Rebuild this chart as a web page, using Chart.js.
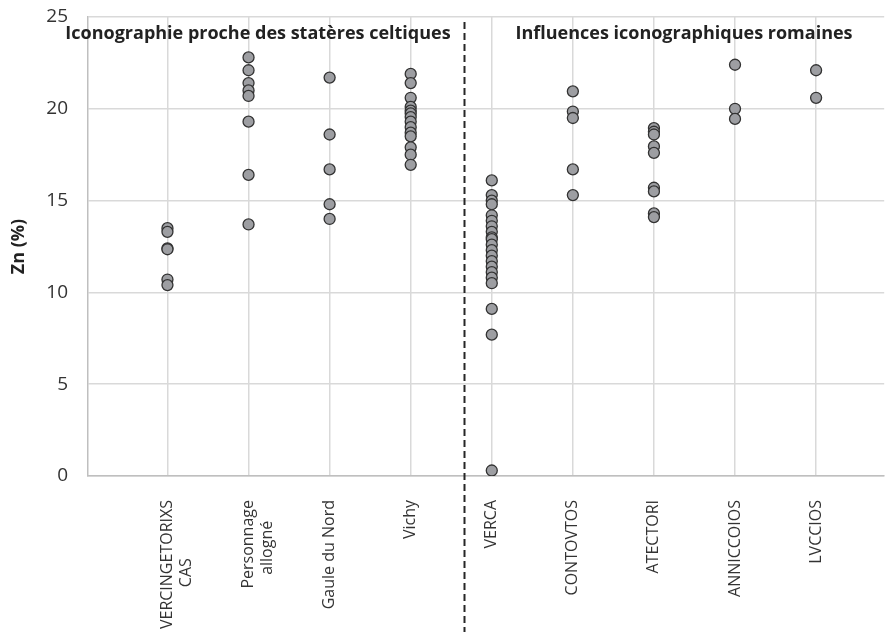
<!DOCTYPE html>
<html>
<head>
<meta charset="utf-8">
<script src="https://cdn.jsdelivr.net/npm/chart.js@4/dist/chart.umd.min.js"></script>
<style>
  html, body { margin: 0; padding: 0; background: #fff; }
  #wrap { width: 891px; height: 641px; }
</style>
</head>
<body>
<div id="wrap"><canvas id="znChart" width="891" height="641"></canvas></div>
<script>
// categories (x = 1..9), nbsp padding centres the short 2nd line under the long one
let categories = [
  ['VERCINGETORIXS', 'CAS' + '\u00a0'.repeat(14)],
  ['Personnage', 'allogné' + '\u00a0'.repeat(5)],
  'Gaule du Nord',
  'Vichy',
  'VERCA',
  'CONTOVTOS',
  'ATECTORI',
  'ANNICCOIOS',
  'LVCCIOS'
];

// Zn (%) per category
let vercingetorixs = [13.5, 13.3, 12.4, 12.35, 10.7, 10.4];
let personnage = [22.8, 22.1, 21.4, 21.0, 20.7, 19.3, 16.4, 13.7];
let gauleNord = [21.7, 18.6, 16.7, 14.8, 14.0];
let vichy = [21.9, 21.4, 20.6, 20.1, 19.9, 19.75, 19.55, 19.3, 19.0, 18.7, 18.5, 17.9, 17.5, 16.95];
let verca = [16.1, 15.3, 15.0, 14.8, 14.2, 13.9, 13.6, 13.3, 13.0, 12.9, 12.6, 12.3, 12.0, 11.7, 11.4, 11.1, 10.8, 10.5, 9.1, 7.7, 0.3];
let contovtos = [20.95, 19.85, 19.5, 16.7, 15.3];
let atectori = [18.95, 18.75, 18.6, 17.95, 17.6, 15.7, 15.5, 14.3, 14.1];
let anniccoios = [22.4, 20.0, 19.45];
let lvccios = [22.1, 20.6];

let yTicks = [0, 5, 10, 15, 20, 25];
let groupTitles = ['Iconographie proche des statères celtiques', 'Influences iconographiques romaines'];

let series = [vercingetorixs, personnage, gauleNord, vichy, verca, contovtos, atectori, anniccoios, lvccios];
let points = [];
series.forEach(function (vals, i) {
  vals.forEach(function (v) { points.push({ x: i + 1, y: v }); });
});

// dashed separator + group headings
let groupPlugin = {
  id: 'groups',
  afterDatasetsDraw: function (chart) {
    let ctx = chart.ctx;
    let xs = chart.scales.x;
    let ys = chart.scales.y;
    let sepX = Math.round(xs.getPixelForValue(4.66)) + 0.5;
    ctx.save();
    ctx.strokeStyle = '#262626';
    ctx.lineWidth = 2;
    ctx.setLineDash([7, 4]);
    ctx.beginPath();
    ctx.moveTo(sepX, chart.chartArea.top + 5);
    ctx.lineTo(sepX, 632);
    ctx.stroke();
    ctx.setLineDash([]);

    ctx.fillStyle = '#222';
    ctx.font = 'bold 18px "Open Sans"';
    ctx.textAlign = 'center';
    ctx.textBaseline = 'middle';
    ctx.fillText(groupTitles[0], 258, ys.getPixelForValue(24.1));
    ctx.fillText(groupTitles[1], 684, ys.getPixelForValue(24.1));
    ctx.restore();
  }
};

let znCtx = document.getElementById('znChart').getContext('2d');

let znChart = new Chart(znCtx, {
  type: 'scatter',
  data: {
    datasets: [{
      label: 'Zn',
      data: points,
      pointRadius: 5.5,
      pointHoverRadius: 5.5,
      pointBackgroundColor: '#9d9ea2',
      pointBorderColor: '#333',
      pointBorderWidth: 1.3
    }]
  },
  options: {
    responsive: false,
    animation: false,
    layout: {
      padding: { top: 17, right: 0, bottom: 0, left: 0 }
    },
    plugins: {
      legend: { display: false },
      tooltip: { enabled: false }
    },
    scales: {
      x: {
        type: 'linear',
        min: 0.02,
        max: 9.84,
        afterBuildTicks: function (scale) {
          scale.ticks = [1, 2, 3, 4, 5, 6, 7, 8, 9].map(function (v) { return { value: v }; });
        },
        afterFit: function (scale) {
          scale.height = 165;
          scale.paddingLeft = 0;
          scale.paddingRight = 0;
        },
        grid: { color: '#d9d9d9', lineWidth: 1.5, drawTicks: false },
        border: { color: '#bfbfbf', width: 1.5 },
        ticks: {
          autoSkip: false,
          minRotation: 90,
          maxRotation: 90,
          padding: 24,
          color: '#333',
          font: { family: 'Open Sans', size: 16 },
          callback: function (v) {
            return (v >= 1 && v <= categories.length) ? categories[v - 1] : '';
          }
        }
      },
      y: {
        min: 0,
        max: 25,
        afterBuildTicks: function (scale) {
          scale.ticks = yTicks.map(function (v) { return { value: v }; });
        },
        afterFit: function (scale) {
          scale.width = 88;
          scale.paddingTop = 0;
          scale.paddingBottom = 0;
        },
        grid: { color: '#d9d9d9', lineWidth: 1.5, drawTicks: false },
        border: { color: '#bfbfbf', width: 1.5 },
        title: {
          display: true,
          text: 'Zn (%)',
          color: '#222',
          padding: { top: 8, bottom: 0 },
          font: { family: 'Open Sans', size: 18, weight: 'bold' }
        },
        ticks: {
          padding: 20,
          color: '#333',
          font: { family: 'Open Sans', size: 19 }
        }
      }
    }
  },
  plugins: [groupPlugin]
});

znChart.render();
</script>
</body>
</html>
